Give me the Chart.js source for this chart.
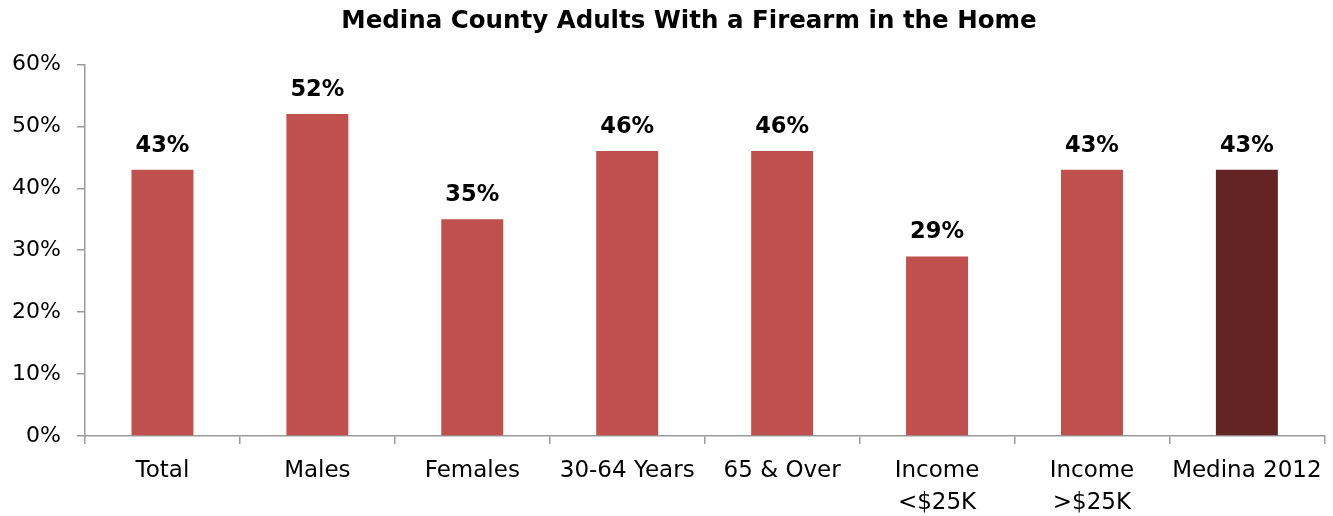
<!DOCTYPE html>
<html>
<head>
<meta charset="utf-8">
<script src="https://cdn.jsdelivr.net/npm/chart.js@4/dist/chart.umd.min.js"></script>
<style>
  html, body { margin: 0; padding: 0; background: #fff; }
  #wrap { width: 1333px; height: 516px; position: relative; }
</style>
</head>
<body>
<div id="wrap"><canvas id="c"></canvas></div>
<script>
// Share of Medina County adults reporting a firearm in the home, by group
const categories = ['Total', 'Males', 'Females', '30-64 Years', '65 & Over', ['Income', '<$25K'], ['Income', '>$25K'], 'Medina 2012'];
const values = [43, 52, 35, 46, 46, 29, 43, 43];
const yTicks = [0, 10, 20, 30, 40, 50, 60];
const barColors = ['#C0504D', '#C0504D', '#C0504D', '#C0504D', '#C0504D', '#C0504D', '#C0504D', '#632523'];

const FONT = '"DejaVu Sans", "Open Sans", sans-serif';
const AXIS = '#9a9a9a';

// Draws the bold percentage above each bar
const valueLabels = {
  id: 'valueLabels',
  afterDatasetsDraw(chart) {
    const ctx = chart.ctx;
    const meta = chart.getDatasetMeta(0);
    ctx.save();
    ctx.font = 'bold 22.5px ' + FONT;
    ctx.fillStyle = '#000';
    ctx.textAlign = 'center';
    ctx.textBaseline = 'alphabetic';
    meta.data.forEach((bar, i) => {
      ctx.fillText(values[i] + '%', bar.x, bar.y - 18);
    });
    ctx.restore();
  }
};

// Centres the title a little right of the canvas middle, over the plot
const titleShift = {
  id: 'titleShift',
  afterLayout(chart) {
    const t = chart.titleBlock;
    if (t) {
      t.left = 51;
      t.width = t.right - t.left;
    }
  }
};

new Chart(document.getElementById('c'), {
  type: 'bar',
  data: {
    labels: categories,
    datasets: [{
      data: values,
      backgroundColor: barColors,
      borderWidth: 0,
      barPercentage: 0.4,
      categoryPercentage: 1.0
    }]
  },
  options: {
    responsive: true,
    maintainAspectRatio: false,
    animation: false,
    layout: { padding: { left: 0, right: 6, top: 0, bottom: 0 } },
    plugins: {
      legend: { display: false },
      tooltip: { enabled: false },
      title: {
        display: true,
        text: 'Medina County Adults With a Firearm in the Home',
        color: '#000',
        font: { family: FONT, size: 24.5, weight: 'bold', lineHeight: 1.2 },
        padding: { top: 7, bottom: 28 }
      }
    },
    scales: {
      x: {
        grid: { display: true, drawOnChartArea: false, tickLength: 8, color: AXIS, lineWidth: 1.5, offset: true },
        border: { display: true, color: AXIS, width: 1.5 },
        ticks: {
          color: '#000',
          font: { family: FONT, size: 23, lineHeight: 1.4 },
          padding: 11,
          maxRotation: 0,
          autoSkip: false
        },
        afterFit(scale) { scale.height = 80; }
      },
      y: {
        min: 0,
        max: 60,
        afterBuildTicks(scale) { scale.ticks = yTicks.map(v => ({ value: v })); },
        grid: { display: true, drawOnChartArea: false, tickLength: 8, color: AXIS, lineWidth: 1.5 },
        border: { display: true, color: AXIS, width: 1.5 },
        ticks: {
          color: '#000',
          font: { family: FONT, size: 22 },
          padding: 16,
          callback: v => v + '%'
        },
        afterFit(scale) { scale.width = 85; }
      }
    }
  },
  plugins: [valueLabels, titleShift]
});
</script>
</body>
</html>
